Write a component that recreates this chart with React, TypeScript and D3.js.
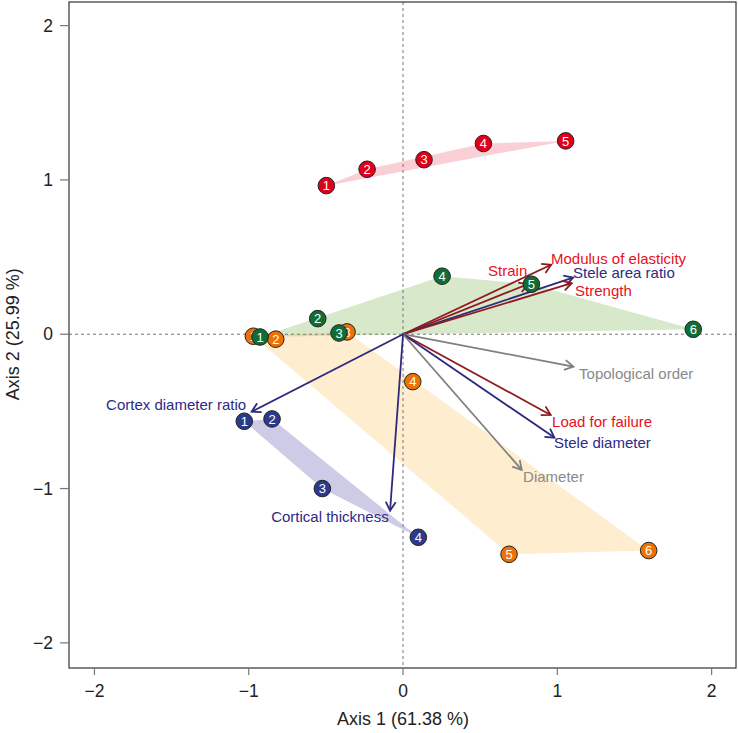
import React from 'react';
import * as d3 from 'd3';

// Group scores (Axis 1, Axis 2)
const redX = [-0.497, -0.233, 0.136, 0.521, 1.054];
const redY = [0.963, 1.069, 1.131, 1.236, 1.253];
const greenX = [-0.927, -0.553, -0.415, 0.253, 0.832, 1.881];
const greenY = [-0.018, 0.101, 0.008, 0.376, 0.324, 0.032];
const orangeX = [-0.97, -0.825, -0.363, 0.063, 0.687, 1.592];
const orangeY = [-0.013, -0.032, 0.015, -0.307, -1.426, -1.402];
const blueX = [-1.029, -0.849, -0.523, 0.099];
const blueY = [-0.564, -0.549, -1.0, -1.316];

// Variable loadings
const varNames = ['Strain', 'Modulus of elasticity', 'Stele area ratio', 'Strength', 'Topological order', 'Load for failure', 'Stele diameter', 'Diameter', 'Cortex diameter ratio', 'Cortical thickness'];
const varX = [0.81, 0.96, 1.102, 1.093, 1.104, 0.957, 0.981, 0.769, -0.981, -0.084];
const varY = [0.325, 0.45, 0.367, 0.331, -0.21, -0.523, -0.67, -0.879, -0.502, -1.143];
const varType = ['mech', 'mech', 'anat', 'mech', 'arch', 'mech', 'anat', 'arch', 'anat', 'anat'];
const labelX = [0.551, 0.959, 1.102, 1.115, 1.141, 0.966, 0.979, 0.778, -1.017, -0.093];
const labelY = [0.41, 0.486, 0.396, 0.285, -0.259, -0.57, -0.706, -0.923, -0.454, -1.182];
const labelAnchor = ['start', 'start', 'start', 'start', 'start', 'start', 'start', 'start', 'end', 'end'];

const ticks = [-2, -1, 0, 1, 2];

const W = 738, H = 733;
const x = d3.scaleLinear().domain([-2.165, 2.158]).range([69, 736]);
const y = d3.scaleLinear().domain([-2.163, 2.153]).range([668, 2]);

const arrowCol: Record<string, string> = { mech: '#8e1a1f', anat: '#2d2a7c', arch: '#7f7f7f' };
const labelCol: Record<string, string> = { mech: '#e8101c', anat: '#2e2a86', arch: '#8a8a8a' };

const groups = [
  { xs: orangeX, ys: orangeY, fill: '#ee7203', hull: 'rgba(250,185,70,0.26)' },
  { xs: greenX, ys: greenY, fill: '#0f6e36', hull: 'rgba(110,170,60,0.27)' },
  { xs: redX, ys: redY, fill: '#e0001b', hull: 'rgba(235,70,95,0.26)' },
  { xs: blueX, ys: blueY, fill: '#2b3a8c', hull: 'rgba(80,70,170,0.28)' },
];
const hullOrder = [2, 1, 0, 3];

const font = 'Liberation Sans, Arial, Helvetica, sans-serif';

function arrowHead(x0: number, y0: number, x1: number, y1: number) {
  const a = Math.atan2(y1 - y0, x1 - x0);
  const L = 10, ang = Math.PI / 6;
  const p1 = [x1 - L * Math.cos(a - ang), y1 - L * Math.sin(a - ang)];
  const p2 = [x1 - L * Math.cos(a + ang), y1 - L * Math.sin(a + ang)];
  return `M${p1[0]},${p1[1]}L${x1},${y1}L${p2[0]},${p2[1]}`;
}

export default function App() {
  return (
    <svg width={W} height={H} style={{ position: 'absolute', left: 0, top: 0, background: '#fff' }} fontFamily={font}>
      {/* hulls */}
      {hullOrder.map((gi) => {
        const g = groups[gi];
        const pts = g.xs.map((v, i) => [x(v), y(g.ys[i])] as [number, number]);
        const h = d3.polygonHull(pts);
        return h ? <path key={'h' + gi} d={'M' + h.map((p) => p.join(',')).join('L') + 'Z'} fill={g.hull} stroke="none" /> : null;
      })}
      {/* reference lines */}
      <line x1={x(0)} x2={x(0)} y1={y.range()[1]} y2={y.range()[0]} stroke="#777" strokeDasharray="3,3" strokeWidth={1} />
      <line x1={x.range()[0]} x2={x.range()[1]} y1={y(0)} y2={y(0)} stroke="#777" strokeDasharray="3,3" strokeWidth={1} />
      {/* arrows */}
      {varNames.map((n, i) => {
        const x0 = x(0), y0 = y(0), x1 = x(varX[i]), y1 = y(varY[i]);
        return (
          <g key={'a' + i} stroke={arrowCol[varType[i]]} strokeWidth={1.8} fill="none">
            <line x1={x0} y1={y0} x2={x1} y2={y1} />
            <path d={arrowHead(x0, y0, x1, y1)} />
          </g>
        );
      })}
      {/* labels */}
      {varNames.map((n, i) => (
        <text key={'l' + i} x={x(labelX[i])} y={y(labelY[i])} dy="0.35em" textAnchor={labelAnchor[i]} fill={labelCol[varType[i]]} fontSize={15}>{n}</text>
      ))}
      {/* points */}
      {groups.map((g, gi) => g.xs.map((v, i) => (
        <g key={'p' + gi + '_' + i}>
          <circle cx={x(v)} cy={y(g.ys[i])} r={8.3} fill={g.fill} stroke="#222" strokeWidth={1} />
          <text x={x(v)} y={y(g.ys[i])} dy="0.36em" textAnchor="middle" fill="#fff" fontSize={13}>{i + 1}</text>
        </g>
      )))}
      {/* box */}
      <rect x={x.range()[0]} y={y.range()[1]} width={x.range()[1] - x.range()[0]} height={y.range()[0] - y.range()[1]} fill="none" stroke="#333" strokeWidth={1.2} />
      {/* x axis */}
      {ticks.map((t) => (
        <g key={'xt' + t}>
          <line x1={x(t)} x2={x(t)} y1={668} y2={675} stroke="#777" strokeWidth={1.2} />
          <text x={x(t)} y={697} textAnchor="middle" fontSize={17.5} fill="#222">{t < 0 ? '\u2212' + Math.abs(t) : t}</text>
        </g>
      ))}
      {ticks.map((t) => (
        <g key={'yt' + t}>
          <line x1={60} x2={69} y1={y(t)} y2={y(t)} stroke="#777" strokeWidth={1.2} />
          <text x={53} y={y(t)} dy="0.35em" textAnchor="end" fontSize={17.5} fill="#222">{t < 0 ? '\u2212' + Math.abs(t) : t}</text>
        </g>
      ))}
      <text x={403} y={725} textAnchor="middle" fontSize={18} fill="#222">Axis 1 (61.38 %)</text>
      <text transform={`translate(19,${y(0)}) rotate(-90)`} textAnchor="middle" fontSize={18} fill="#222">Axis 2 (25.99 %)</text>
    </svg>
  );
}
